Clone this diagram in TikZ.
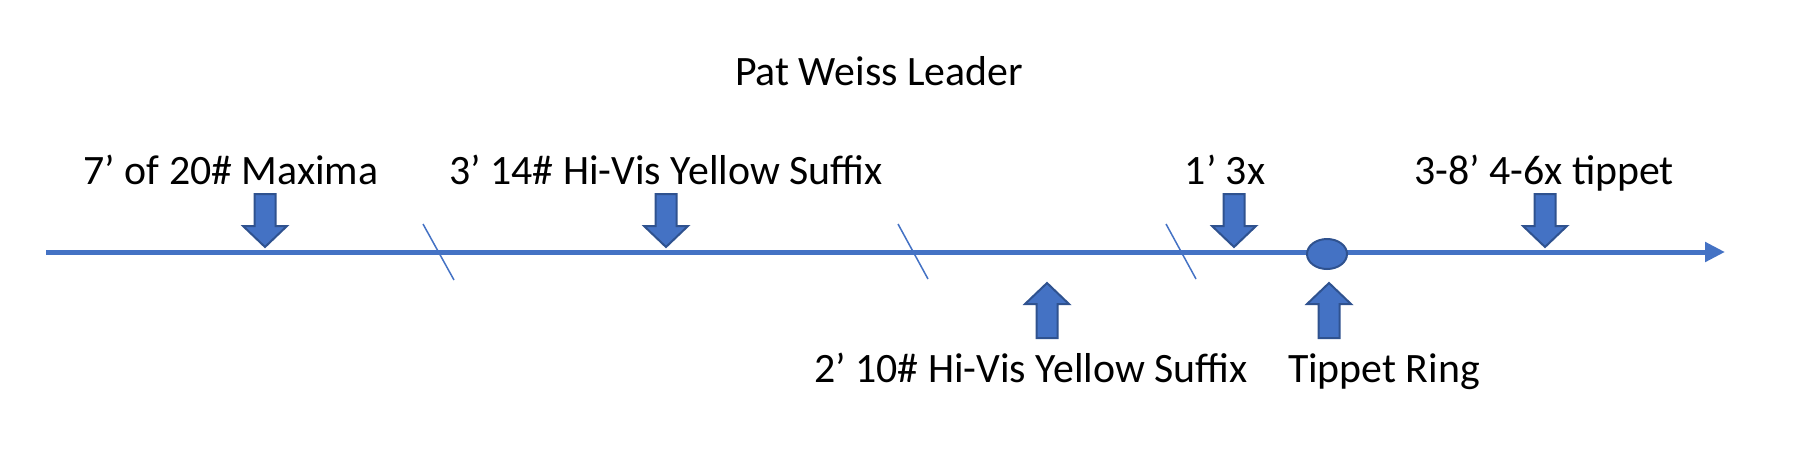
\documentclass[tikz,border=0pt]{standalone}
\usepackage{fontspec}
\setmainfont{Carlito}
\usetikzlibrary{arrows.meta,shapes.geometric}
\definecolor{officeblue}{HTML}{4472C4}
\definecolor{officeedge}{HTML}{2F528F}
\tikzset{
  lbl/.style={anchor=base, inner sep=0pt, font=\fontsize{11.9}{14}\selectfont, text=black},
  blockarr/.style={fill=officeblue, draw=officeedge, line width=0.2mm, line join=miter},
  leader/.style={draw=officeblue, line width=0.5mm, -{Triangle[length=2mm, width=1.9mm]}},
  tick/.style={draw=officeblue, line width=0.15mm},
  downarr/.pic={\path[blockarr] (-10.5,-53) -- (10.5,-53) -- (10.5,-21) -- (22,-21) -- (0,0) -- (-22,-21) -- (-10.5,-21) -- cycle;},
  uparr/.pic={\path[blockarr] (-10.5,55) -- (10.5,55) -- (10.5,21) -- (22,21) -- (0,0) -- (-22,21) -- (-10.5,21) -- cycle;}
}
\begin{document}
\begin{tikzpicture}[x=0.1mm, y=-0.1mm]
\useasboundingbox (0,0) rectangle (1806,464);
% main leader line
\coordinate (start) at (46,252);
\coordinate (end) at (1725,252);
\draw[leader] (start) -- (end);
% section ticks
\draw[tick] (423,224) -- (454,280);
\draw[tick] (898,224) -- (928,279);
\draw[tick] (1166,224) -- (1196,279);
% tippet ring
\node[ellipse, fill=officeblue, draw=officeedge, line width=0.2mm, inner sep=0pt, minimum width=4mm, minimum height=3mm] (ring) at (1327,254) {};
% down arrows
\pic at (265,247) {downarr};
\pic at (666,247) {downarr};
\pic at (1234,247) {downarr};
\pic at (1545,247) {downarr};
% up arrows
\pic at (1047,283) {uparr};
\pic at (1329,283) {uparr};
% labels
\node[lbl] (title) at (879,85) {Pat Weiss Leader};
\node[lbl] (maxima) at (231,184) {7’ of 20\# Maxima};
\node[lbl] (hivis14) at (666,184) {3’ 14\# Hi-Vis Yellow Suffix};
\node[lbl] (threex) at (1225,184) {1’ 3x};
\node[lbl] (tippet) at (1544,184) {3-8’ 4-6x tippet};
\node[lbl] (hivis10) at (1031,382) {2’ 10\# Hi-Vis Yellow Suffix};
\node[lbl] (ringlbl) at (1384,382) {Tippet Ring};
\end{tikzpicture}
\end{document}
